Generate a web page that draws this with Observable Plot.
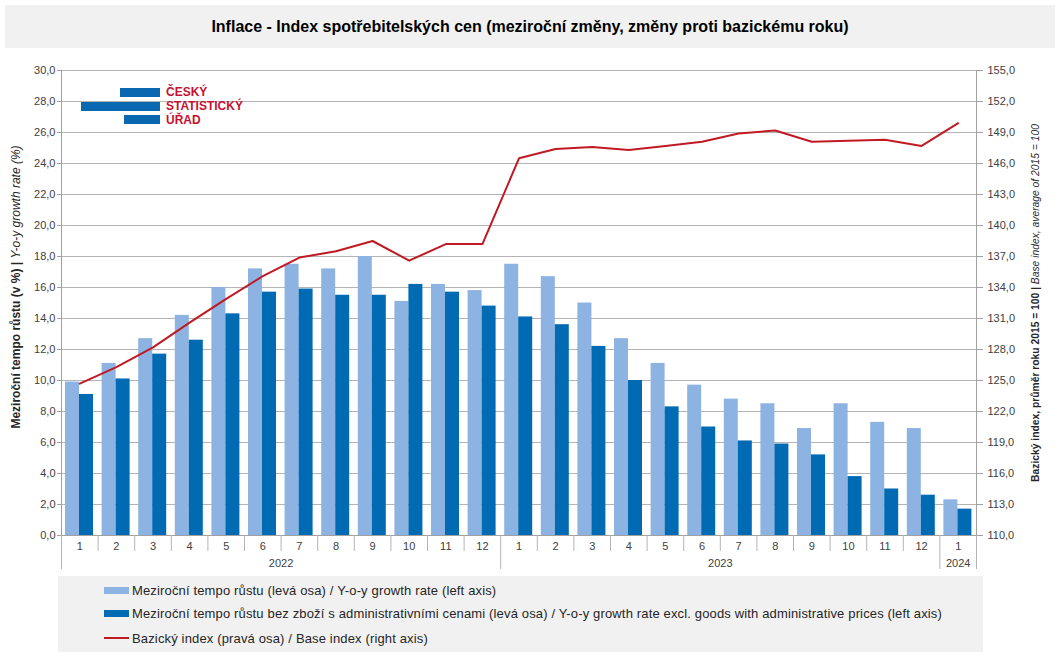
<!DOCTYPE html>
<html>
<head>
<meta charset="utf-8">
<script src="https://cdn.jsdelivr.net/npm/d3@7"></script>
<script src="https://cdn.jsdelivr.net/npm/@observablehq/plot@0.6"></script>
<style>
  html, body { margin: 0; padding: 0; background: #fff; }
  body { width: 1059px; height: 660px; position: relative; overflow: hidden;
         font-family: "Liberation Sans", Arial, sans-serif; }
  #title { position: absolute; left: 5px; top: 5px; width: 1050px; height: 43px;
           background: #f1f1f1; font-weight: bold; font-size: 16px; color: #000;
           display: flex; align-items: center; justify-content: center; }
  #chart { position: absolute; left: 0; top: 48px; }
  #legend { position: absolute; left: 58px; top: 576px; width: 925px; height: 76px;
            background: #f1f1f1; font-size: 13px; letter-spacing: 0.15px; color: #262626; }
  .li { position: absolute; left: 46px; height: 16px; display: flex; align-items: center; }
  .sw { width: 25px; margin-right: 3px; flex: none; }
  #logo { position: absolute; left: 0; top: 0; }
  .lb { position: absolute; background: #0a68b1; }
  .lt { position: absolute; left: 166px; color: #c41230; font-weight: bold; font-size: 12px;
        line-height: 14px; }
</style>
</head>
<body>
<div id="title">Inflace - Index spotřebitelských cen (meziroční změny, změny proti bazickému roku)</div>
<div id="chart"></div>
<div id="logo">
  <div class="lb" style="left:120px;top:88px;width:40px;height:9px"></div>
  <div class="lb" style="left:81px;top:102px;width:79px;height:9px"></div>
  <div class="lb" style="left:124px;top:115px;width:36px;height:9px"></div>
  <div class="lt" style="top:85px">ČESKÝ</div>
  <div class="lt" style="top:99px">STATISTICKÝ</div>
  <div class="lt" style="top:113px">ÚŘAD</div>
</div>
<div id="legend"></div>
<script>
// ---- data ----
const monthLabels = ["1","2","3","4","5","6","7","8","9","10","11","12",
                     "1","2","3","4","5","6","7","8","9","10","11","12","1"];
const yearLabels = ["2022", "2023", "2024"];
const yearMonthCounts = [12, 12, 1];
const yoyGrowth = [9.9, 11.1, 12.7, 14.2, 16.0, 17.2, 17.5, 17.2, 18.0, 15.1, 16.2, 15.8,
                   17.5, 16.7, 15.0, 12.7, 11.1, 9.7, 8.8, 8.5, 6.9, 8.5, 7.3, 6.9, 2.3];
const yoyExclAdmin = [9.1, 10.1, 11.7, 12.6, 14.3, 15.7, 15.9, 15.5, 15.5, 16.2, 15.7, 14.8,
                      14.1, 13.6, 12.2, 10.0, 8.3, 7.0, 6.1, 5.9, 5.2, 3.8, 3.0, 2.6, 1.7];
const baseIndex = [124.7, 126.3, 128.2, 130.6, 132.9, 135.1, 136.9, 137.5, 138.5, 136.6, 138.2, 138.2,
                   146.5, 147.4, 147.6, 147.3, 147.7, 148.1, 148.9, 149.2, 148.1, 148.2, 148.3, 147.7, 149.9];
const leftTicks = d3.range(0, 31, 2);          // 0,0 ... 30,0
const rightMin = 110, rightMax = 155;          // right axis 110,0 ... 155,0
const seriesNames = [
  "Meziroční tempo růstu (levá osa) / Y-o-y growth rate (left axis)",
  "Meziroční tempo růstu bez zboží s administrativními cenami (levá osa) / Y-o-y growth rate excl. goods with administrative prices (left axis)",
  "Bazický index (pravá osa) / Base index (right axis)"
];
const colors = ["#8db3e2", "#006bb3", "#c01a24"];

// ---- derived tables ----
const rows = monthLabels.map((m, i) => ({idx: i, month: m, yoy: yoyGrowth[i], excl: yoyExclAdmin[i], base: baseIndex[i]}));
let acc = 0;
const years = yearLabels.map((label, k) => { const start = acc; acc += yearMonthCounts[k]; return {label, start, end: acc, mid: (start + acc) / 2}; });
const yearBounds = [0, ...years.map(y => y.end)];
const monthBounds = d3.range(1, rows.length).filter(b => !yearBounds.includes(b));
const rightScale = (rightMax - rightMin) / 30;  // map right axis onto left axis units
const toLeft = v => (v - rightMin) / rightScale;
const fmt = v => v.toFixed(1).replace(".", ",");

const gridColor = "#b4b4b4";
const axisColor = "#a0a0a0";
const textColor = "#404040";

const plot = Plot.plot({
  width: 1059,
  height: 527,
  marginTop: 22,
  marginBottom: 40,
  marginLeft: 61,
  marginRight: 83,
  style: {fontFamily: '"Liberation Sans", Arial, sans-serif', fontSize: "11px", color: textColor, background: "transparent"},
  x: {type: "linear", domain: [0, rows.length]},
  y: {domain: [0, 30]},
  marks: [
    Plot.ruleY(leftTicks.filter(t => t > 0), {stroke: gridColor}),
    Plot.rectY(rows, {x1: "idx", x2: d => d.idx + 1, y: "yoy", fill: colors[0], insetLeft: 4, insetRight: 18.6}),
    Plot.rectY(rows, {x1: "idx", x2: d => d.idx + 1, y: "excl", fill: colors[1], insetLeft: 18, insetRight: 4.6}),
    Plot.ruleY([0], {stroke: axisColor}),
    Plot.ruleX([0, rows.length], {stroke: axisColor, insetBottom: -34}),
    Plot.axisX(monthBounds, {anchor: "bottom", tickSize: 16, tickFormat: () => "", stroke: gridColor}),
    Plot.axisX(yearBounds, {anchor: "bottom", tickSize: 34, tickFormat: () => "", stroke: gridColor}),
    Plot.text(rows, {x: d => d.idx + 0.5, y: 0, text: "month", dy: 11, fill: textColor, fontSize: 11}),
    Plot.text(years, {x: "mid", y: 0, text: "label", dy: 28, fill: textColor, fontSize: 11}),
    Plot.axisY(leftTicks, {anchor: "left", tickSize: 4, tickPadding: 2, tickFormat: fmt, stroke: axisColor, fill: textColor, fontSize: 11, label: null}),
    Plot.axisY(leftTicks, {anchor: "right", tickSize: 6, tickPadding: 5, tickFormat: t => fmt(rightMin + t * rightScale), stroke: axisColor, fill: textColor, fontSize: 11, label: null}),
    Plot.lineY(rows, {x: d => d.idx + 0.5, y: d => toLeft(d.base), stroke: colors[2], strokeWidth: 2})
  ]
});
document.getElementById("chart").appendChild(plot);

// axis titles (mixed bold / italic)
const svg = d3.select(plot);
const lt = svg.append("text")
  .attr("transform", "translate(19.5,239) rotate(-90)")
  .attr("text-anchor", "middle").attr("fill", "#262626").attr("font-size", 12);
lt.append("tspan").attr("font-weight", "bold").text("Meziroční tempo růstu (v %) | ");
lt.append("tspan").attr("font-style", "italic").text("Y-o-y growth rate (%)");
const rt = svg.append("text")
  .attr("transform", "translate(1038.5,255) rotate(-90)")
  .attr("text-anchor", "middle").attr("fill", "#262626").attr("font-size", 10.3);
rt.append("tspan").attr("font-weight", "bold").text("Bazický index, průměr roku 2015 = 100 | ");
rt.append("tspan").attr("font-style", "italic").text("Base index, average of 2015 = 100");

// legend
const legend = d3.select("#legend");
const rowTops = [6, 29, 54];
seriesNames.forEach((name, i) => {
  const item = legend.append("div").attr("class", "li").style("top", rowTops[i] + "px");
  item.append("div").attr("class", "sw")
    .style("height", i < 2 ? "7px" : "2.5px")
    .style("background", colors[i]);
  item.append("span").text(name);
});
</script>
</body>
</html>
